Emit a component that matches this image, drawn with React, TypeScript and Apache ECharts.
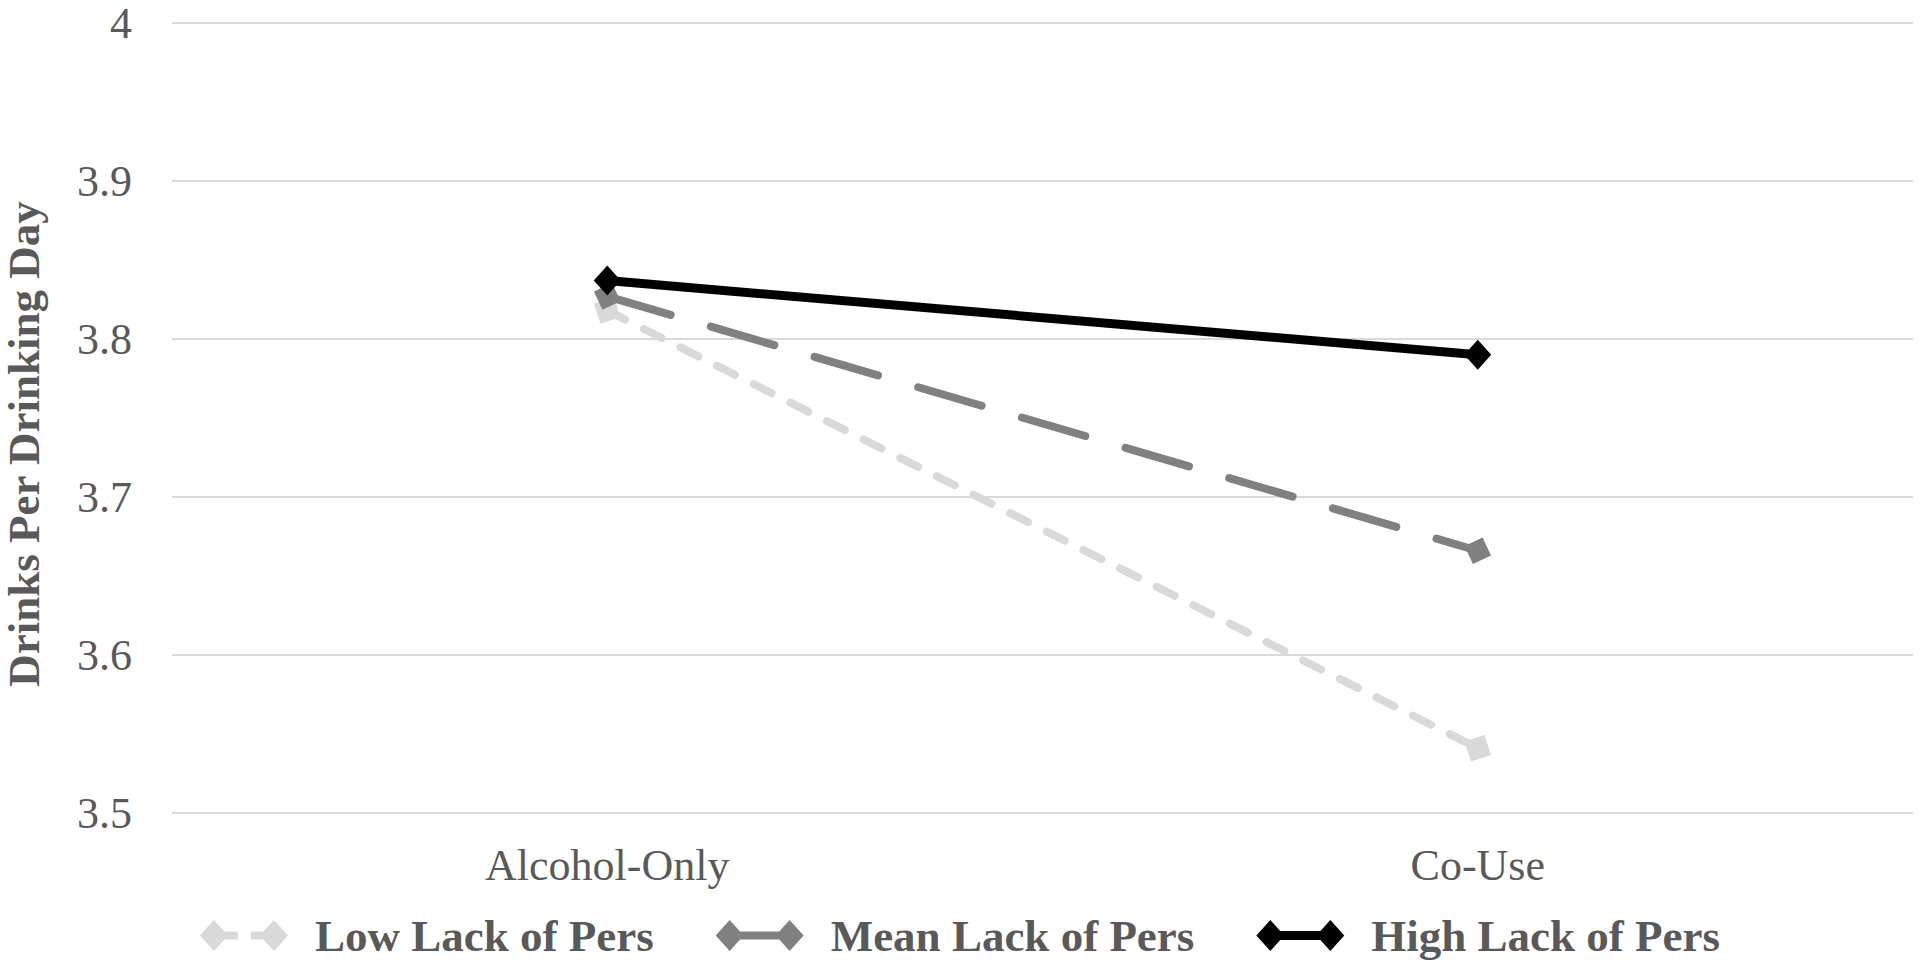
import React, { useEffect, useRef } from "react";
import * as echarts from "echarts";

const categories = ["Alcohol-Only", "Co-Use"];
const lowValues = [3.818, 3.541];
const meanValues = [3.827, 3.666];
const highValues = [3.837, 3.790];
const seriesNames = ["Low Lack of Pers", "Mean Lack of Pers", "High Lack of Pers"];
const yTicks = { min: 3.5, max: 4, interval: 0.1 };
const yTitle = "Drinks Per Drinking Day";

const FONT = "'Liberation Serif', 'Times New Roman', serif";
const TEXT = "#595959";

const solidIcon = (t: number, b: number) =>
  `path://M0,15.5L14,0L${(14 + 14 * (t / 15.5)).toFixed(1)},${t}L${(74 - 14 * (t / 15.5)).toFixed(1)},${t}L74,0L88,15.5L74,31L${(74 - 14 * (t / 15.5)).toFixed(1)},${b}L${(14 + 14 * (t / 15.5)).toFixed(1)},${b}L14,31Z`;
const lowIcon =
  "path://M0,15.5L14,0L24.4,11.5L38,11.5L38,19.5L24.4,19.5L14,31Z M51,11.5L63.6,11.5L74,0L88,15.5L74,31L63.6,19.5L51,19.5Z";

export default function App() {
  const ref = useRef<HTMLDivElement>(null);
  useEffect(() => {
    if (!ref.current) return;
    const chart = echarts.init(ref.current, null, { renderer: "svg" });
    chart.setOption({
      animation: false,
      backgroundColor: "#ffffff",
      grid: { left: 172, right: 7, top: 23, bottom: 155, containLabel: false },
      xAxis: {
        type: "category",
        data: categories,
        axisLine: { show: false },
        axisTick: { show: false },
        axisLabel: { color: TEXT, fontFamily: FONT, fontSize: 44, margin: 30 },
      },
      yAxis: {
        type: "value",
        min: yTicks.min,
        max: yTicks.max,
        interval: yTicks.interval,
        axisLine: { show: false },
        axisTick: { show: false },
        axisLabel: {
          color: TEXT,
          fontFamily: FONT,
          fontSize: 44,
          margin: 40,
          formatter: (v: number) => String(Number(v.toFixed(1))),
        },
        splitLine: { lineStyle: { color: "#d9d9d9", width: 2 } },
      },
      legend: {
        left: "center",
        top: 908,
        itemWidth: 88,
        itemHeight: 31,
        itemGap: 62,
        textStyle: {
          color: TEXT,
          fontFamily: FONT,
          fontSize: 45,
          fontWeight: "bold",
          padding: [0, 0, 0, 22],
        },
        data: [
          { name: seriesNames[0], icon: lowIcon },
          { name: seriesNames[1], icon: solidIcon(11.5, 19.5) },
          { name: seriesNames[2], icon: solidIcon(11, 20) },
        ],
      },
      graphic: [
        {
          type: "text",
          x: 24,
          y: 444,
          rotation: Math.PI / 2,
          style: {
            text: yTitle,
            font: `bold 45px ${FONT}`,
            fill: TEXT,
            textAlign: "center",
            textVerticalAlign: "middle",
          },
        },
      ],
      series: [
        {
          name: seriesNames[0],
          type: "line",
          data: lowValues,
          color: "#d9d9d9",
          symbol: "rect",
          symbolSize: 21,
          symbolRotate: 18,
          itemStyle: { color: "#d9d9d9", borderWidth: 0 },
          lineStyle: { color: "#d9d9d9", width: 8, type: [20, 21], cap: "round" },
          z: 2,
        },
        {
          name: seriesNames[1],
          type: "line",
          data: meanValues,
          color: "#808080",
          symbol: "rect",
          symbolSize: 20,
          symbolRotate: 25,
          itemStyle: { color: "#808080", borderWidth: 0 },
          lineStyle: { color: "#808080", width: 8, type: [66, 42], cap: "round" },
          z: 3,
        },
        {
          name: seriesNames[2],
          type: "line",
          data: highValues,
          color: "#000000",
          symbol: "diamond",
          symbolSize: [27, 30],
          itemStyle: { color: "#000000", borderWidth: 0 },
          lineStyle: { color: "#000000", width: 9 },
          z: 4,
        },
      ],
    });
    return () => chart.dispose();
  }, []);
  return (
    <div
      ref={ref}
      style={{ position: "fixed", left: 0, top: 0, width: 1920, height: 968, background: "#fff" }}
    />
  );
}
